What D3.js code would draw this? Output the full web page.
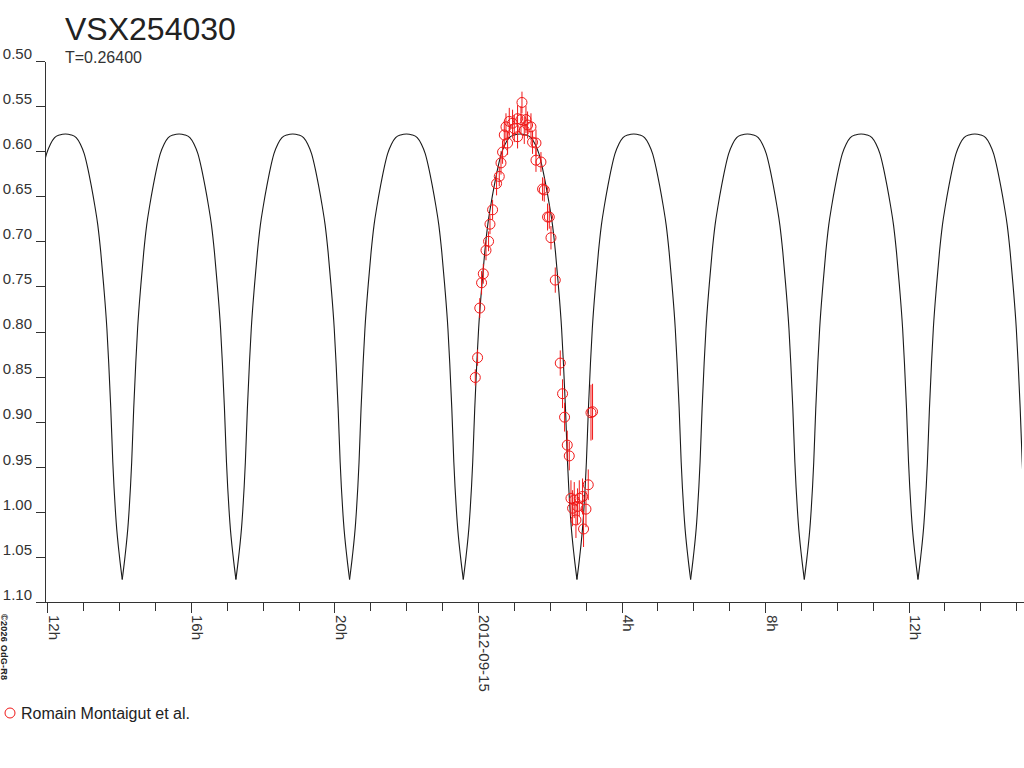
<!DOCTYPE html>
<html>
<head>
<meta charset="utf-8">
<script src="https://cdn.jsdelivr.net/npm/d3@7"></script>
<style>
  body { margin: 0; background: #fff; }
  svg { display: block; font-family: "Liberation Sans", Arial, sans-serif; }
</style>
</head>
<body>
<svg id="chart"></svg>
<script>
const fullWidth = 1024;
const fullHeight = 768;

// observations, hours from 2012-09-15 00:00 UT
const obsHours = [-0.075, -0.011, 0.050, 0.100, 0.148, 0.223, 0.295, 0.334, 0.407, 0.518,
  0.593, 0.641, 0.685, 0.733, 0.780, 0.825, 0.872, 0.964, 1.011, 1.103,
  1.103, 1.198, 1.226, 1.290, 1.337, 1.382, 1.477, 1.521, 1.616, 1.616,
  1.755, 1.800, 1.847, 1.939, 1.987, 2.034, 2.154, 2.293, 2.357, 2.413,
  2.488, 2.544, 2.591, 2.636, 2.683, 2.730, 2.775, 2.823, 2.914, 2.942,
  3.009, 3.073, 3.149, 3.193];
const obsMag = [0.851, 0.829, 0.774, 0.746, 0.736, 0.710, 0.700, 0.681, 0.665, 0.636,
  0.628, 0.613, 0.601, 0.582, 0.573, 0.591, 0.567, 0.569, 0.575, 0.564,
  0.584, 0.565, 0.546, 0.577, 0.565, 0.571, 0.573, 0.590, 0.591, 0.610,
  0.612, 0.642, 0.643, 0.673, 0.673, 0.696, 0.743, 0.835, 0.869, 0.895,
  0.926, 0.938, 0.985, 0.996, 0.987, 1.009, 0.994, 0.985, 0.983, 1.019,
  0.997, 0.970, 0.890, 0.889];
const obsErr = [0.009, 0.009, 0.011, 0.013, 0.011, 0.011, 0.011, 0.011, 0.011, 0.013,
  0.011, 0.013, 0.013, 0.015, 0.015, 0.013, 0.015, 0.015, 0.015, 0.015,
  0.013, 0.015, 0.012, 0.015, 0.015, 0.015, 0.015, 0.013, 0.015, 0.013,
  0.011, 0.013, 0.013, 0.015, 0.013, 0.013, 0.014, 0.014, 0.016, 0.016,
  0.016, 0.016, 0.020, 0.020, 0.020, 0.020, 0.020, 0.020, 0.020, 0.020,
  0.020, 0.017, 0.031, 0.031];

// model light curve, one half period between two minima
const period = 0.264;          // days
const minEpochHours = 2.758;   // a minimum, hours from 2012-09-15 00:00 UT
const modelPhase = [0, 0.024, 0.053, 0.083, 0.101, 0.119, 0.135, 0.164, 0.189, 0.215,
  0.242, 0.273, 0.303, 0.334, 0.369, 0.405, 0.449, 0.5, 0.551, 0.595,
  0.631, 0.666, 0.697, 0.727, 0.758, 0.785, 0.811, 0.836, 0.865, 0.881,
  0.899, 0.917, 0.947, 0.976, 1];
const modelMag = [1.075, 1.050, 1.012, 0.945, 0.885, 0.835, 0.797, 0.748, 0.712, 0.682,
  0.660, 0.638, 0.619, 0.603, 0.592, 0.585, 0.582, 0.581, 0.582, 0.585,
  0.592, 0.603, 0.619, 0.638, 0.660, 0.682, 0.712, 0.748, 0.797, 0.835,
  0.885, 0.945, 1.012, 1.050, 1.075];

const yTicks = [0.50, 0.55, 0.60, 0.65, 0.70, 0.75, 0.80, 0.85, 0.90, 0.95, 1.00, 1.05, 1.10];

const starName = 'VSX254030';
const subtitle = 'T=0.26400';
const observer = 'Romain Montaigut et al.';
const credit = '\u00A92026 OdG-R8';

const day0 = Date.UTC(2012, 8, 15);
const toDate = h => new Date(day0 + h * 3600e3);

const x = d3.scaleUtc()
  .domain([new Date(Date.UTC(2012, 8, 14, 11, 56)), new Date(Date.UTC(2012, 8, 15, 15, 13))])
  .range([45, 1024]);
const y = d3.scaleLinear().domain([0.50, 1.10]).range([61, 602]);

const svg = d3.select('#chart')
  .attr('width', fullWidth)
  .attr('height', fullHeight);

svg.append('defs').append('clipPath').attr('id', 'plotclip')
  .append('rect').attr('x', 45).attr('y', 0).attr('width', 977).attr('height', 602);

// model curve, one path per half cycle so the minima stay sharp
const halfH = period * 24 / 2;
const segments = [];
for (let k = -5; k <= 3; k++) {
  segments.push(modelPhase.map((p, i) => ({ t: toDate(minEpochHours + (k + p) * halfH), m: modelMag[i] })));
}
const line = d3.line()
  .x(d => x(d.t))
  .y(d => y(d.m))
  .curve(d3.curveMonotoneX);

svg.append('g').attr('clip-path', 'url(#plotclip)')
  .selectAll('path')
  .data(segments)
  .enter().append('path')
  .attr('fill', 'none')
  .attr('stroke', '#1a1a1a')
  .attr('stroke-width', 1.1)
  .attr('d', line);

// observations
const obs = obsHours.map((h, i) => ({ t: toDate(h), m: obsMag[i], e: obsErr[i] }));
const og = svg.append('g');
og.selectAll('line')
  .data(obs)
  .enter().append('line')
  .attr('x1', d => x(d.t)).attr('x2', d => x(d.t))
  .attr('y1', d => y(d.m - d.e)).attr('y2', d => y(d.m + d.e))
  .attr('stroke', '#f01818')
  .attr('stroke-width', 1);
og.selectAll('circle')
  .data(obs)
  .enter().append('circle')
  .attr('cx', d => x(d.t))
  .attr('cy', d => y(d.m))
  .attr('r', 5)
  .attr('fill', 'none')
  .attr('stroke', '#f01818')
  .attr('stroke-width', 1);

// axes
const yAxis = d3.axisLeft(y)
  .tickValues(yTicks)
  .tickSize(9)
  .tickSizeOuter(0)
  .tickFormat(d3.format('.2f'));

const gy = svg.append('g')
  .attr('transform', 'translate(45,0)')
  .call(yAxis)
  .attr('font-family', null)
  .attr('font-size', 15);
gy.selectAll('path, line').attr('stroke', '#333').attr('shape-rendering', 'crispEdges');
gy.selectAll('text').attr('x', -13).attr('dy', '-0.18em').attr('fill', '#333');

const xAxis = d3.axisBottom(x)
  .ticks(d3.utcHour.every(1))
  .tickSizeOuter(0)
  .tickFormat(d => {
    const h = d.getUTCHours();
    if (h % 4 !== 0) return '';
    return h === 0 ? d3.utcFormat('%Y-%m-%d')(d) : h + 'h';
  });

const gx = svg.append('g')
  .attr('transform', 'translate(0,602)')
  .call(xAxis)
  .attr('font-family', null)
  .attr('font-size', 15);
gx.selectAll('path').attr('stroke', '#333').attr('shape-rendering', 'crispEdges');
gx.selectAll('.tick line')
  .attr('stroke', '#333')
  .attr('shape-rendering', 'crispEdges')
  .attr('y2', d => d.getUTCHours() % 4 === 0 ? 11 : 9);
gx.selectAll('.tick text')
  .attr('transform', 'rotate(90)')
  .attr('text-anchor', 'start')
  .attr('x', 13)
  .attr('y', -1)
  .attr('dy', null)
  .attr('fill', '#333');

// titles
svg.append('text')
  .attr('x', 65).attr('y', 40)
  .attr('font-size', 32)
  .attr('fill', '#222')
  .text(starName);
svg.append('text')
  .attr('x', 65).attr('y', 63)
  .attr('font-size', 16)
  .attr('fill', '#333')
  .text(subtitle);

// credit
svg.append('text')
  .attr('transform', 'translate(1,614) rotate(90)')
  .attr('font-size', 9)
  .attr('font-weight', 'bold')
  .attr('fill', '#222')
  .attr('textLength', 66)
  .text(credit);

// legend
svg.append('circle')
  .attr('cx', 10).attr('cy', 713).attr('r', 5)
  .attr('fill', 'none')
  .attr('stroke', '#f01818');
svg.append('text')
  .attr('x', 21).attr('y', 719)
  .attr('font-size', 16)
  .attr('fill', '#222')
  .text(observer);
</script>
</body>
</html>
